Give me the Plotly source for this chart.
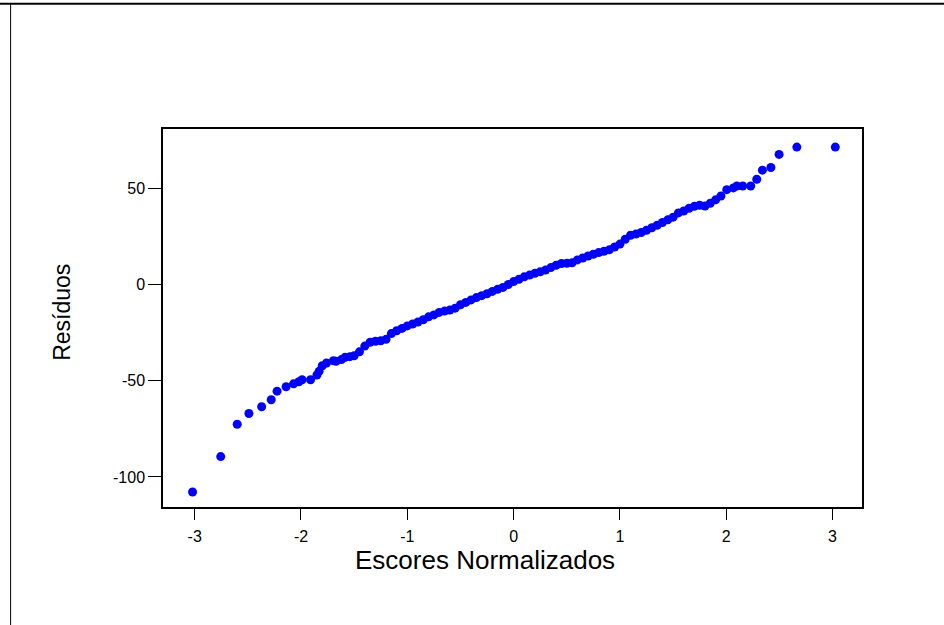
import plotly.graph_objects as go

# normal scores (x) and residuals (y)
escores = [-3.02, -2.755, -2.60, -2.49, -2.37, -2.28, -2.225, -2.14, -2.07, -2.02,
           -1.99, -1.91, -1.85, -1.83, -1.80, -1.76, -1.695, -1.67, -1.62, -1.585, -1.54,
           -1.50, -1.45, -1.40, -1.35, -1.30, -1.25, -1.20, -1.15, -1.10, -1.05,
           -1.00, -0.95, -0.90, -0.85, -0.80, -0.75, -0.70, -0.65, -0.60, -0.55,
           -0.50, -0.45, -0.40, -0.35, -0.30, -0.25, -0.20, -0.15, -0.10, -0.05,
           0.00, 0.05, 0.10, 0.15, 0.20, 0.25, 0.30, 0.35, 0.40, 0.45,
           0.50, 0.55, 0.60, 0.65, 0.70, 0.75, 0.80, 0.85, 0.90, 0.95,
           1.00, 1.05, 1.10, 1.15, 1.20, 1.25, 1.30, 1.35, 1.40, 1.45,
           1.50, 1.55, 1.60, 1.65, 1.70, 1.75, 1.80, 1.85, 1.90, 1.95,
           2.005, 2.067, 2.10, 2.155, 2.23, 2.287, 2.34, 2.42, 2.497, 2.664, 3.026]
residuos = [-107.8, -89.4, -72.6, -67.0, -63.5, -59.9, -55.4, -53.1, -51.6, -50.5,
            -49.5, -49.5, -47.0, -45.1, -42.2, -40.8, -39.6, -39.9, -39.0, -37.8, -37.5,
            -37.0, -35.0, -32.0, -30.0, -29.5, -29.2, -28.5, -25.5, -24.0, -22.8,
            -21.5, -20.5, -19.5, -18.3, -16.8, -15.8, -14.5, -13.8, -13.3, -12.3,
            -10.5, -9.3, -8.0, -6.8, -5.8, -4.8, -3.6, -2.5, -1.5, 0.0,
            1.5, 2.7, 4.0, 4.9, 5.8, 6.6, 7.5, 8.8, 10.0, 10.9,
            11.0, 11.3, 12.8, 13.8, 14.8, 15.7, 16.6, 17.3, 18.0, 19.5,
            21.0, 23.5, 25.6, 26.2, 27.0, 28.2, 29.5, 30.8, 32.2, 33.6,
            35.0, 37.2, 38.2, 39.6, 40.6, 41.2, 40.8, 42.2, 44.0, 46.0,
            49.3, 50.2, 51.2, 51.2, 51.2, 54.7, 59.4, 60.8, 67.6, 71.4, 71.4]

x_ticks = [-3, -2, -1, 0, 1, 2, 3]
x_labels = ["-3", "-2", "-1", "0", "1", "2", "3"]
y_ticks = [-100, -50, 0, 50]
y_labels = ["-100", "-50", "0", "50"]

fig = go.Figure()
fig.add_trace(go.Scatter(x=escores, y=residuos, mode="markers",
                         marker=dict(color="#0000FF", size=9, line=dict(width=0)),
                         showlegend=False))

fig.update_layout(
    width=944, height=625,
    paper_bgcolor="white", plot_bgcolor="white",
    margin=dict(l=163, r=82, t=129, b=118),
    font=dict(family="Liberation Sans, Arial, sans-serif", color="black"),
    shapes=[
        dict(type="line", xref="paper", yref="paper", x0=-0.25, x1=1.26, y0=1.3316, y1=1.3316,
             line=dict(color="black", width=2)),
        dict(type="line", xref="paper", yref="paper", x0=-0.218, x1=-0.218, y0=1.3316, y1=-0.32,
             line=dict(color="black", width=1)),
    ],
    annotations=[
        dict(text="Escores Normalizados", xref="paper", yref="paper", x=0.4603, y=-0.139,
             xanchor="center", yanchor="middle", showarrow=False, font=dict(size=26)),
        dict(text="Resíduos", xref="paper", yref="paper", x=-0.1444, y=0.5139,
             xanchor="center", yanchor="middle", showarrow=False, textangle=-90,
             font=dict(size=23)),
    ],
)
fig.update_xaxes(range=[-3.298, 3.277], tickvals=x_ticks, ticktext=x_labels,
                 showline=True, mirror=True, linecolor="black", linewidth=1.5,
                 ticks="outside", ticklen=11, tickwidth=1.2, tickcolor="black",
                 ticklabelstandoff=3,
                 showgrid=False, zeroline=False, tickfont=dict(size=16))
fig.update_yaxes(range=[-115.6, 80.8], tickvals=y_ticks, ticktext=y_labels,
                 showline=True, mirror=True, linecolor="black", linewidth=1.5,
                 ticks="outside", ticklen=13, tickwidth=1.2, tickcolor="black",
                 showgrid=False, zeroline=False, tickfont=dict(size=16))

fig.write_html("out.html", config={"displayModeBar": False},
               post_script="document.body.style.margin='0';")
